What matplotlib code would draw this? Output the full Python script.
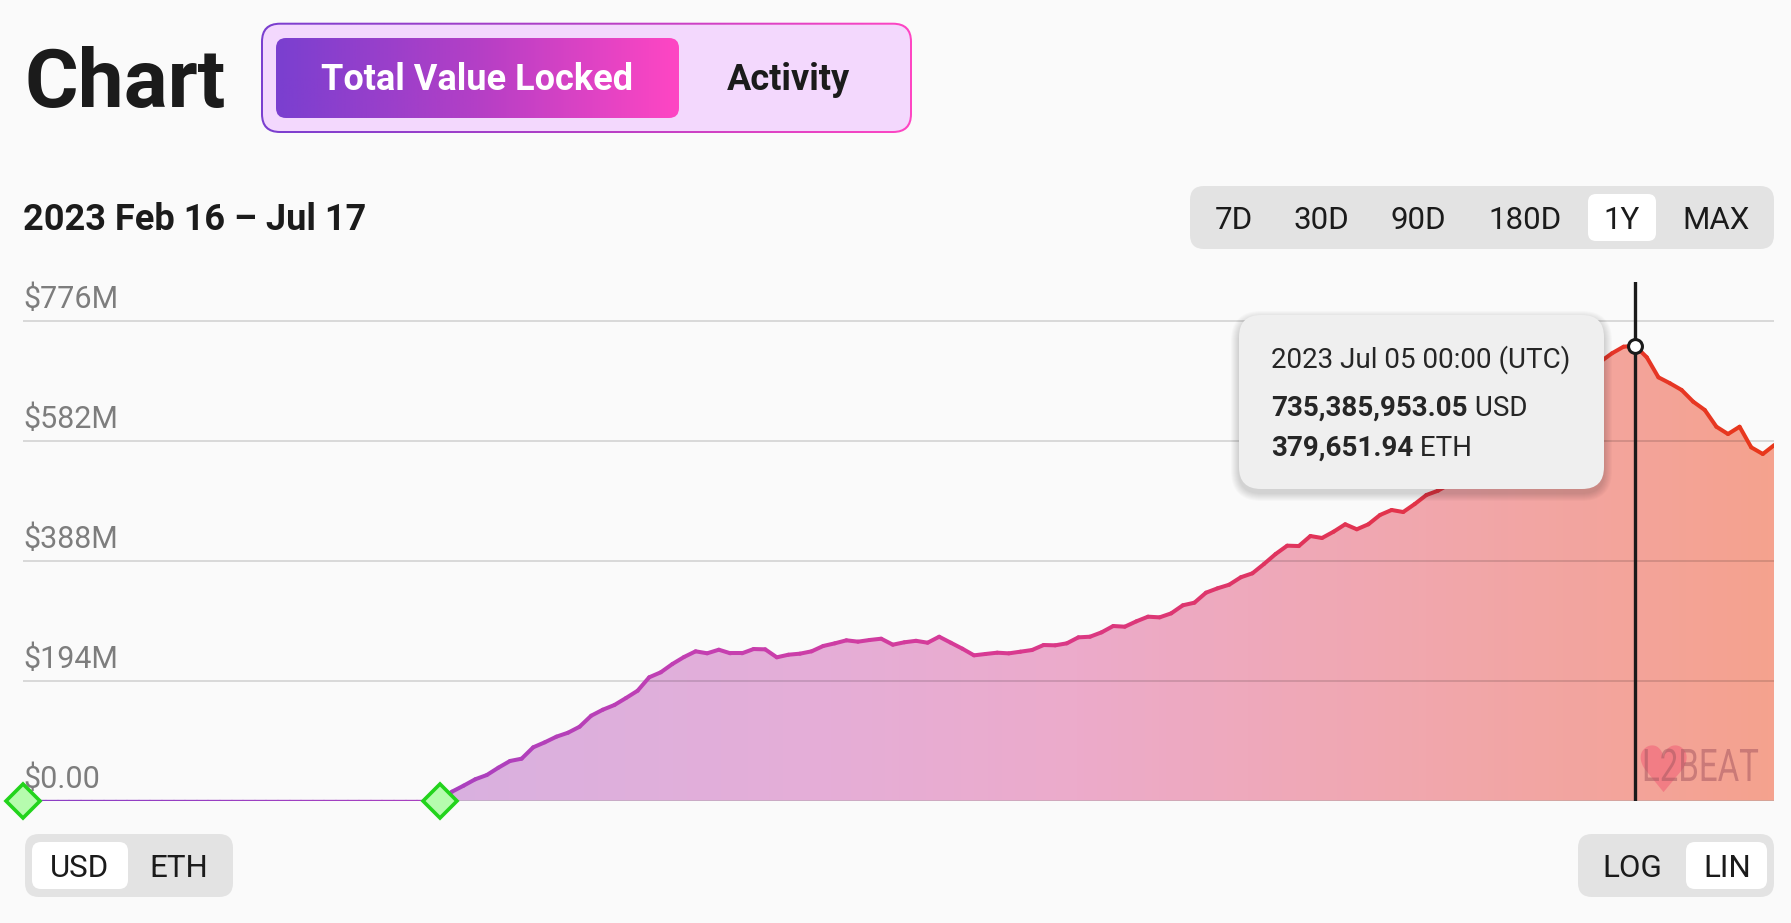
import matplotlib
matplotlib.use('Agg')
import matplotlib.pyplot as plt
import matplotlib.dates as mdates
from matplotlib.patches import FancyBboxPatch, PathPatch
from matplotlib.collections import LineCollection
from matplotlib.colors import LinearSegmentedColormap
from matplotlib.textpath import TextPath
from matplotlib.font_manager import FontProperties
from matplotlib.transforms import Affine2D
import numpy as np
import pandas as pd

plt.rcParams['font.family'] = ['Roboto', 'DejaVu Sans']

# --- 1. DONNÉES ---
dates = pd.date_range('2023-02-16', '2023-07-17', freq='D')
# TVL en millions USD, un point par jour (rien avant le 24 mars)
tvl_before_launch = [0.0] * 36
tvl_after_launch = [
    1.0, 14.6, 24.3, 34.6, 41.5, 53.4, 64.2, 67.9, 86.3, 94.4,
    103.5, 109.9, 119.6, 137.4, 147.1, 154.7, 166.0, 177.8, 199.5, 207.6,
    221.0, 232.3, 241.5, 238.3, 244.1, 238.3, 238.3, 245.2, 244.7, 231.8,
    236.0, 237.7, 241.5, 250.1, 254.4, 259.3, 257.1, 259.8, 261.9, 252.2,
    256.1, 258.5, 255.4, 265.1, 255.4, 245.7, 235.0, 237.2, 239.3, 238.2,
    240.9, 243.6, 251.7, 251.2, 254.4, 264.1, 265.1, 272.2, 282.4, 281.3,
    290.0, 297.5, 296.4, 302.9, 315.9, 320.1, 336.3, 343.4, 349.2, 361.2,
    367.6, 382.7, 398.8, 412.3, 411.7, 427.9, 424.7, 434.9, 446.9, 438.8,
    446.9, 461.9, 470.0, 466.7, 479.7, 494.2, 501.2, 512.0, 525.0, 538.0,
    550.0, 563.0, 578.0, 592.0, 607.0, 622.0, 640.0, 660.0, 677.0, 694.0,
    709.7, 723.3, 734.0, 735.4, 716.8, 684.5, 674.8, 664.0, 645.1, 631.6,
    604.6, 592.8, 604.6, 571.3, 560.5, 575.1,
]
tvl_musd = np.array(tvl_before_launch + tvl_after_launch)
milestones = pd.to_datetime(['2023-02-16', '2023-03-24'])

y_ticks = [0, 194, 388, 582, 776]
y_labels = ['$0.00', '$194M', '$388M', '$582M', '$776M']
range_options = ['7D', '30D', '90D', '180D', '1Y', 'MAX']
active_range = '1Y'
hover_usd = 735385953.05
hover_eth = 379651.94

# --- 2. COULEURS ---
BG = '#fafafa'
TXT = '#1b1b1b'
line_cmap = LinearSegmentedColormap.from_list('line', [
    (0.0, '#8a3fc4'), (0.24, '#a940bf'), (0.40, '#c63fb0'), (0.55, '#d83a94'),
    (0.75, '#e13355'), (0.90, '#e5352a'), (1.0, '#e8381c')])
fill_cmap = LinearSegmentedColormap.from_list('fill', [
    (0.0, '#cdb2e6'), (0.24, '#d9b1e0'), (0.45, '#e5aed8'), (0.60, '#ecabcb'),
    (0.80, '#f1a7ad'), (1.0, '#f5a28e')])
tab_cmap = LinearSegmentedColormap.from_list('tab', ['#7a3fd0', '#b43fc6', '#ff46c3'])

W, H = 1791, 923
fig = plt.figure(figsize=(W / 100, H / 100), dpi=100, facecolor=BG)

# --- 3. AXE DES DONNÉES ---
px_left, px_right, px_base, px_top = 22.8, 1774.4, 800.7, 282.0
ax = fig.add_axes([px_left / W, 1 - px_base / H, (px_right - px_left) / W, (px_base - px_top) / H])
ax.set_facecolor('none')
ax.axis('off')

x = mdates.date2num(dates)
y = tvl_musd
ymax = 194 * (px_base - px_top) / 120
ax.set_xlim(x[0], x[-1])
ax.set_ylim(0, ymax)

# remplissage en dégradé horizontal
poly = ax.fill_between(x, 0, y, color='none', lw=0)
grad = np.linspace(0, 1, 512)[None, :]
im = ax.imshow(grad, extent=(x[0], x[-1], 0, ymax), cmap=fill_cmap, aspect='auto', zorder=2)
im.set_clip_path(poly.get_paths()[0], transform=ax.transData)

# lignes de grille
for v in y_ticks:
    ax.axhline(v, color='black', alpha=0.17, lw=1.1, zorder=3)
for v, lbl in zip(y_ticks, y_labels):
    ax.annotate(lbl, xy=(0, v), xycoords=('axes fraction', 'data'), xytext=(0.6, 9.4),
                textcoords='offset points', fontsize=22, color='#7d7d7d', va='baseline', zorder=5)

# courbe en dégradé
pts = np.column_stack([x, y])
segs = np.stack([pts[:-1], pts[1:]], axis=1)
xn = (x[:-1] + x[1:]) / 2
seg_col = line_cmap((xn - x[0]) / (x[-1] - x[0]))
seg_lw = np.where((y[:-1] == 0) & (y[1:] == 0), 1.7, 2.9)
lc = LineCollection(segs, colors=seg_col, linewidths=seg_lw, capstyle='round', joinstyle='round', zorder=4)
ax.add_collection(lc)

# survol : ligne verticale + point
i_peak = int(np.argmax(y))
ax.axvline(x[i_peak], color='#1a1a1a', lw=2.4, zorder=6)
ax.plot(x[i_peak], y[i_peak], 'o', ms=10, mfc='white', mec='#1a1a1a', mew=2.2, zorder=7)

# jalons
ax.plot(mdates.date2num(milestones), [0] * len(milestones), 'D', ms=17, mfc='#b6fcae',
        mec='#22d41c', mew=2.6, clip_on=False, zorder=8)

# --- 4. INTERFACE (coordonnées pixels) ---
ui = fig.add_axes([0, 0, 1, 1], zorder=10)
ui.set_facecolor('none')
ui.axis('off')


def rbox(x0, y0, x1, y1, r, **kw):
    p = FancyBboxPatch((x0, y0), x1 - x0, y1 - y0, boxstyle=f'round,pad=0,rounding_size={r}', **kw)
    ui.add_patch(p)
    return p


def grad_box(x0, y0, x1, y1, r, cmap, z):
    p = rbox(x0, y0, x1, y1, r, fc='none', ec='none', zorder=z)
    g = ui.imshow(np.linspace(0, 1, 256)[None, :], extent=(x0, x1, y1, y0), cmap=cmap,
                  aspect='auto', zorder=z)
    g.set_clip_path(p)


ui.text(24, 106.7, 'Chart', fontsize=59, fontweight='bold', color=TXT, va='baseline')

# onglets
grad_box(261, 22.7, 912, 133, 19, tab_cmap, 2)
rbox(263, 24.7, 910, 131, 17, fc='#f3d8fd', ec='none', zorder=3)
grad_box(276, 38, 679, 118, 10, tab_cmap, 4)
ui.text(477.5, 90, 'Total Value Locked', fontsize=26, fontweight='bold', color='white',
        ha='center', va='baseline', zorder=5)
ui.text(788, 90, 'Activity', fontsize=26, fontweight='bold', color=TXT, ha='center', va='baseline', zorder=5)

# période
ui.text(23, 230, f"{dates[0]:%Y %b %d} – {dates[-1]:%b %d}", fontsize=26, fontweight='bold',
        color=TXT, va='baseline')

# boutons de plage
rbox(1190, 186, 1774, 249, 14, fc='#e3e3e3', ec='none', zorder=2)
range_x = [1234, 1321.5, 1418.6, 1525, 1622, 1715.6]
for lbl, cx in zip(range_options, range_x):
    if lbl == active_range:
        rbox(cx - 34, 194, cx + 34, 241, 8, fc='white', ec='none', zorder=3)
    ui.text(cx, 229, lbl, fontsize=22.5, color=TXT, ha='center', va='baseline', zorder=4)

# USD / ETH et LOG / LIN
rbox(25, 834, 233, 897, 14, fc='#e3e3e3', ec='none', zorder=2)
rbox(32, 842, 128, 889, 9, fc='white', ec='none', zorder=3)
ui.text(79, 877, 'USD', fontsize=22.5, color=TXT, ha='center', va='baseline', zorder=4)
ui.text(179, 877, 'ETH', fontsize=22.5, color=TXT, ha='center', va='baseline', zorder=4)
rbox(1578, 834, 1774, 897, 14, fc='#e3e3e3', ec='none', zorder=2)
rbox(1686, 842, 1767, 889, 9, fc='white', ec='none', zorder=3)
ui.text(1632, 877, 'LOG', fontsize=22.5, color=TXT, ha='center', va='baseline', zorder=4)
ui.text(1727, 877, 'LIN', fontsize=22.5, color=TXT, ha='center', va='baseline', zorder=4)

# filigrane L2BEAT
ui.text(1663, 792, '♥', family='DejaVu Sans', fontsize=46, color='#f26d7d', alpha=0.7,
        ha='center', va='baseline', zorder=1)
tp = TextPath((0, 0), 'L2BEAT', size=1, prop=FontProperties(family='Roboto'))
tp = Affine2D().scale(33, -45).translate(1642, 781).transform_path(tp)
ui.add_patch(PathPatch(tp, fc='#a85a63', ec='none', alpha=0.55, zorder=1))

# infobulle
tx0, ty0, tx1, ty1 = 1239, 315, 1604, 489
for k in range(1, 9):
    rbox(tx0 - k, ty0 - k + 4, tx1 + k, ty1 + k + 4, 22 + k, fc='black', ec='none',
         alpha=0.018, zorder=20)
rbox(tx0, ty0, tx1, ty1, 22, fc='#efefef', ec='none', zorder=21)
d_peak = dates[i_peak]
ui.text(1271, 368, f"{d_peak:%Y %b %d} 00:00 (UTC)", fontsize=20, color='#262626', va='baseline', zorder=22)
t_usd = ui.text(1271, 416, f"{hover_usd:,.2f}", fontsize=20, fontweight='bold', color='#262626',
                va='baseline', zorder=22)
ui.annotate(' USD', xy=(1, 0), xycoords=t_usd, fontsize=20, color='#262626', va='bottom', zorder=22)
t_eth = ui.text(1271, 456, f"{hover_eth:,.2f}", fontsize=20, fontweight='bold', color='#262626',
                va='baseline', zorder=22)
ui.annotate(' ETH', xy=(1, 0), xycoords=t_eth, fontsize=20, color='#262626', va='bottom', zorder=22)

ui.set_xlim(0, W)
ui.set_ylim(H, 0)

fig.savefig('out.png', dpi=100, facecolor=BG)
